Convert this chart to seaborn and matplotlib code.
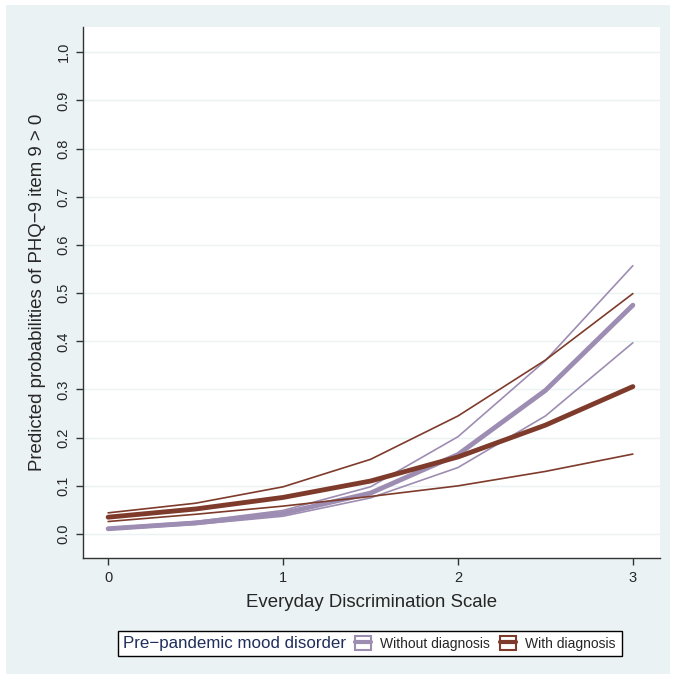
import matplotlib
matplotlib.use('Agg')

import matplotlib.pyplot as plt
import seaborn as sns
import numpy as np
from matplotlib.lines import Line2D
from matplotlib.patches import Rectangle

# ================= DATA =================
eds = [0, 0.5, 1, 1.5, 2, 2.5, 3]

no_dx = [0.011, 0.023, 0.043, 0.085, 0.165, 0.298, 0.475]
no_dx_lo = [0.009, 0.020, 0.037, 0.075, 0.138, 0.245, 0.397]
no_dx_hi = [0.013, 0.026, 0.049, 0.098, 0.202, 0.360, 0.557]

dx = [0.035, 0.052, 0.076, 0.110, 0.160, 0.226, 0.306]
dx_lo = [0.026, 0.041, 0.058, 0.078, 0.100, 0.130, 0.166]
dx_hi = [0.044, 0.064, 0.098, 0.155, 0.245, 0.361, 0.499]

labels = ["Without diagnosis", "With diagnosis"]
legend_title = "Pre\u2212pandemic mood disorder"
yticks = np.arange(0, 1.01, 0.1)
xticks = [0, 1, 2, 3]

# ================= STYLE =================
sns.set_theme(style="white")
plt.rcParams['font.family'] = ['Liberation Sans', 'DejaVu Sans']

bg = "#EAF2F3"
purple = "#9E8DB2"
brown = "#7E3B2B"

fig = plt.figure(figsize=(6.76, 6.79), dpi=100, facecolor="white")
fig.patches.append(Rectangle((0.009, 0.008), 0.982, 0.985, transform=fig.transFigure,
                             facecolor=bg, edgecolor="none", zorder=-10))
ax = fig.add_axes([0.123, 0.178, 0.853, 0.782])
ax.set_facecolor("white")

# ================= LINES =================
sns.lineplot(x=eds, y=no_dx_lo, color=purple, lw=1.2, ax=ax)
sns.lineplot(x=eds, y=no_dx_hi, color=purple, lw=1.2, ax=ax)
sns.lineplot(x=eds, y=no_dx, color=purple, lw=3.5, ax=ax)
sns.lineplot(x=eds, y=dx_lo, color=brown, lw=1.2, ax=ax)
sns.lineplot(x=eds, y=dx_hi, color=brown, lw=1.2, ax=ax)
sns.lineplot(x=eds, y=dx, color=brown, lw=3.5, ax=ax)

# ================= AXES =================
ax.set_xlim(-0.143, 3.154)
ax.set_ylim(-0.05, 1.052)
ax.set_yticks(yticks)
ax.set_yticklabels([f"{v:.1f}" for v in yticks], rotation=90, va="center", fontsize=10.5)
ax.set_xticks(xticks)
ax.set_xticklabels([str(v) for v in xticks], fontsize=10.5)
ax.yaxis.grid(True, color=bg, lw=1)
ax.xaxis.grid(False)
ax.tick_params(axis="both", direction="out", length=5, width=1, color="#333333",
               left=True, bottom=True, pad=4)
for s in ["top", "right"]:
    ax.spines[s].set_visible(False)
for s in ["left", "bottom"]:
    ax.spines[s].set_color("#333333")
    ax.spines[s].set_linewidth(1)

ax.set_xlabel("Everyday Discrimination Scale", fontsize=13.4, labelpad=7)
ax.set_ylabel("Predicted probabilities of PHQ\u22129 item 9 > 0", fontsize=13.4, labelpad=8)

# ================= LEGEND =================
fig.patches.append(Rectangle((0.1746, 0.0339), 0.7456, 0.0368, transform=fig.transFigure,
                             facecolor="white", edgecolor="black", lw=1, zorder=1))
fig.text(0.182, 0.0523, legend_title, color="#1F2D5C", fontsize=12.2, va="center", ha="left")

def box_handle(c):
    return (Rectangle((0, 0), 1, 1, facecolor="white", edgecolor=c, lw=1.5),
            Line2D([0], [0], color=c, lw=3))

leg = fig.legend([box_handle(purple), box_handle(brown)], labels, ncol=2,
                 loc="center left", bbox_to_anchor=(0.511, 0.0523), frameon=False,
                 handlelength=1.15, handleheight=1.2, handletextpad=0.65,
                 columnspacing=0.7, borderpad=0.2, fontsize=10)

fig.savefig("out.png", dpi=100, facecolor="white")
